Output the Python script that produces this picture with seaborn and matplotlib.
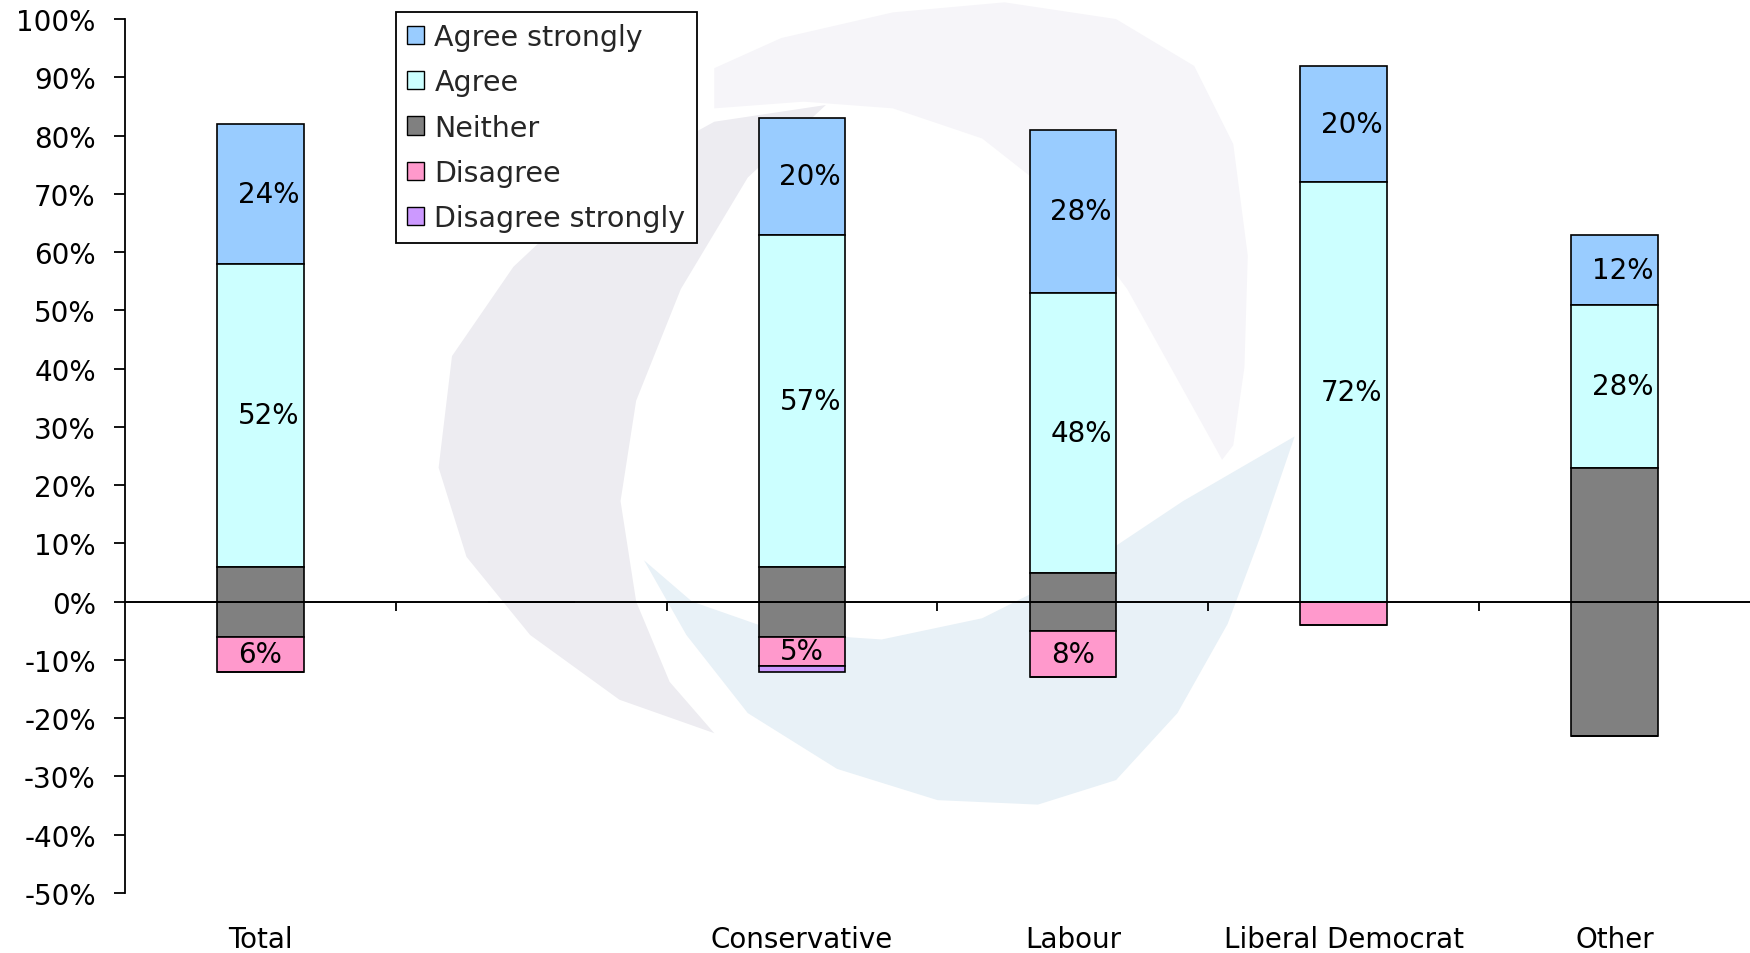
import numpy as np
import matplotlib
matplotlib.use("Agg")
import matplotlib.pyplot as plt
from matplotlib.patches import Patch, Polygon
import seaborn as sns

# survey answers by party (percent)
categories = ["Total", "", "Conservative", "Labour", "Liberal Democrat", "Other"]
agree_strongly = [24, 0, 20, 28, 20, 12]
agree = [52, 0, 57, 48, 72, 28]
neither = [12, 0, 12, 10, 0, 46]
disagree = [6, 0, 5, 8, 4, 0]
disagree_strongly = [0, 0, 1, 0, 0, 0]
yticks = list(range(-50, 101, 10))

series_names = ["Agree strongly", "Agree", "Neither", "Disagree", "Disagree strongly"]
colors = ["#99CCFF", "#CCFFFF", "#808080", "#FF99CC", "#CC99FF"]

sns.set_theme(style="white")
plt.rcParams["font.family"] = ["DejaVu Sans"]

fig = plt.figure(figsize=(17.5, 9.54), dpi=100)
ax = fig.add_axes([125 / 1750, 1 - 894 / 954, 1 - 125 / 1750, (894 - 20) / 954])
ax.set_facecolor("none")

# faint watermark swirl in the background (display coords of a 1568x855 view)
def wm(points, color):
    pts = np.array(points, dtype=float)
    pts[:, 0] = pts[:, 0] / 1568
    pts[:, 1] = 1 - pts[:, 1] / 855
    fig.add_artist(Polygon(pts, closed=True, facecolor=color, edgecolor="none",
                           transform=fig.transFigure, zorder=-5))

wm([(640, 62), (700, 35), (800, 12), (900, 3), (1000, 18), (1070, 60), (1105, 130),
    (1118, 230), (1115, 330), (1105, 400), (1095, 413), (1060, 350), (1010, 260),
    (950, 180), (880, 125), (800, 98), (720, 92), (640, 98)], "#F6F5F9")
wm([(740, 95), (640, 110), (540, 165), (460, 240), (405, 320), (393, 420), (418, 500),
    (475, 570), (555, 628), (640, 658), (600, 612), (570, 540), (556, 450), (570, 360),
    (610, 260), (670, 160)], "#EDECF1")
wm([(577, 503), (620, 540), (700, 568), (790, 574), (880, 555), (970, 510), (1060, 450),
    (1160, 392), (1130, 480), (1100, 560), (1055, 640), (1000, 700), (930, 722),
    (840, 718), (750, 690), (670, 640), (615, 570)], "#E8F1F7")

a_s = np.array(agree_strongly)
a = np.array(agree)
n = np.array(neither)
d = np.array(disagree)
ds = np.array(disagree_strongly)

bottoms = [n / 2 + a, n / 2, -n / 2, -n / 2 - d, -n / 2 - d - ds]
heights = [a_s, a, n, d, ds]

for h, b, c in zip(heights, bottoms, colors):
    sns.barplot(x=categories, y=h, bottom=b, order=categories, color=c,
                saturation=1, width=0.32, edgecolor="black", linewidth=1.2,
                errorbar=None, ax=ax, zorder=2)

# data labels
for idx, (h, b) in enumerate(zip(heights, bottoms)):
    if series_names[idx] == "Neither":
        continue
    for i in range(len(categories)):
        if h[i] >= 5:
            dx = 0.03 if idx < 2 else 0
            ax.text(i + dx, b[i] + h[i] / 2, f"{h[i]}%", ha="center", va="center",
                    fontsize=20, color="black", zorder=4)

ax.axhline(0, color="black", lw=1.4, zorder=5)
ax.vlines(np.arange(len(categories) - 1) + 0.5, -1.6, 0, color="black", lw=1.3, zorder=5)

ax.set_xlim(-0.5, len(categories) - 0.5)
ax.set_ylim(-50, 100)
ax.set_yticks(yticks)
ax.set_yticklabels([f"{v}%" for v in yticks])
ax.set_xticks(range(len(categories)))
ax.set_xticklabels(categories)
ax.set_xlabel("")
ax.set_ylabel("")
ax.tick_params(axis="y", length=8, width=1.3, pad=13, labelsize=20, colors="black", left=True)
ax.tick_params(axis="x", length=0, pad=23, labelsize=20, colors="black")

for s in ["top", "right", "bottom"]:
    ax.spines[s].set_visible(False)
ax.spines["left"].set_color("black")
ax.spines["left"].set_linewidth(1.3)

handles = [Patch(facecolor=c, edgecolor="black", linewidth=1) for c in colors]
leg = ax.legend(handles, series_names, loc="upper left",
                bbox_to_anchor=(396 / 1750, 1 - 13 / 954), bbox_transform=fig.transFigure,
                borderaxespad=0, fontsize=20.5, frameon=True, fancybox=False,
                framealpha=1, edgecolor="black", labelspacing=0.6, borderpad=0.4,
                handlelength=0.6, handleheight=0.6, handletextpad=0.35)
leg.get_frame().set_linewidth(1.3)
leg.set_zorder(6)

fig.savefig("out.png", dpi=100)
